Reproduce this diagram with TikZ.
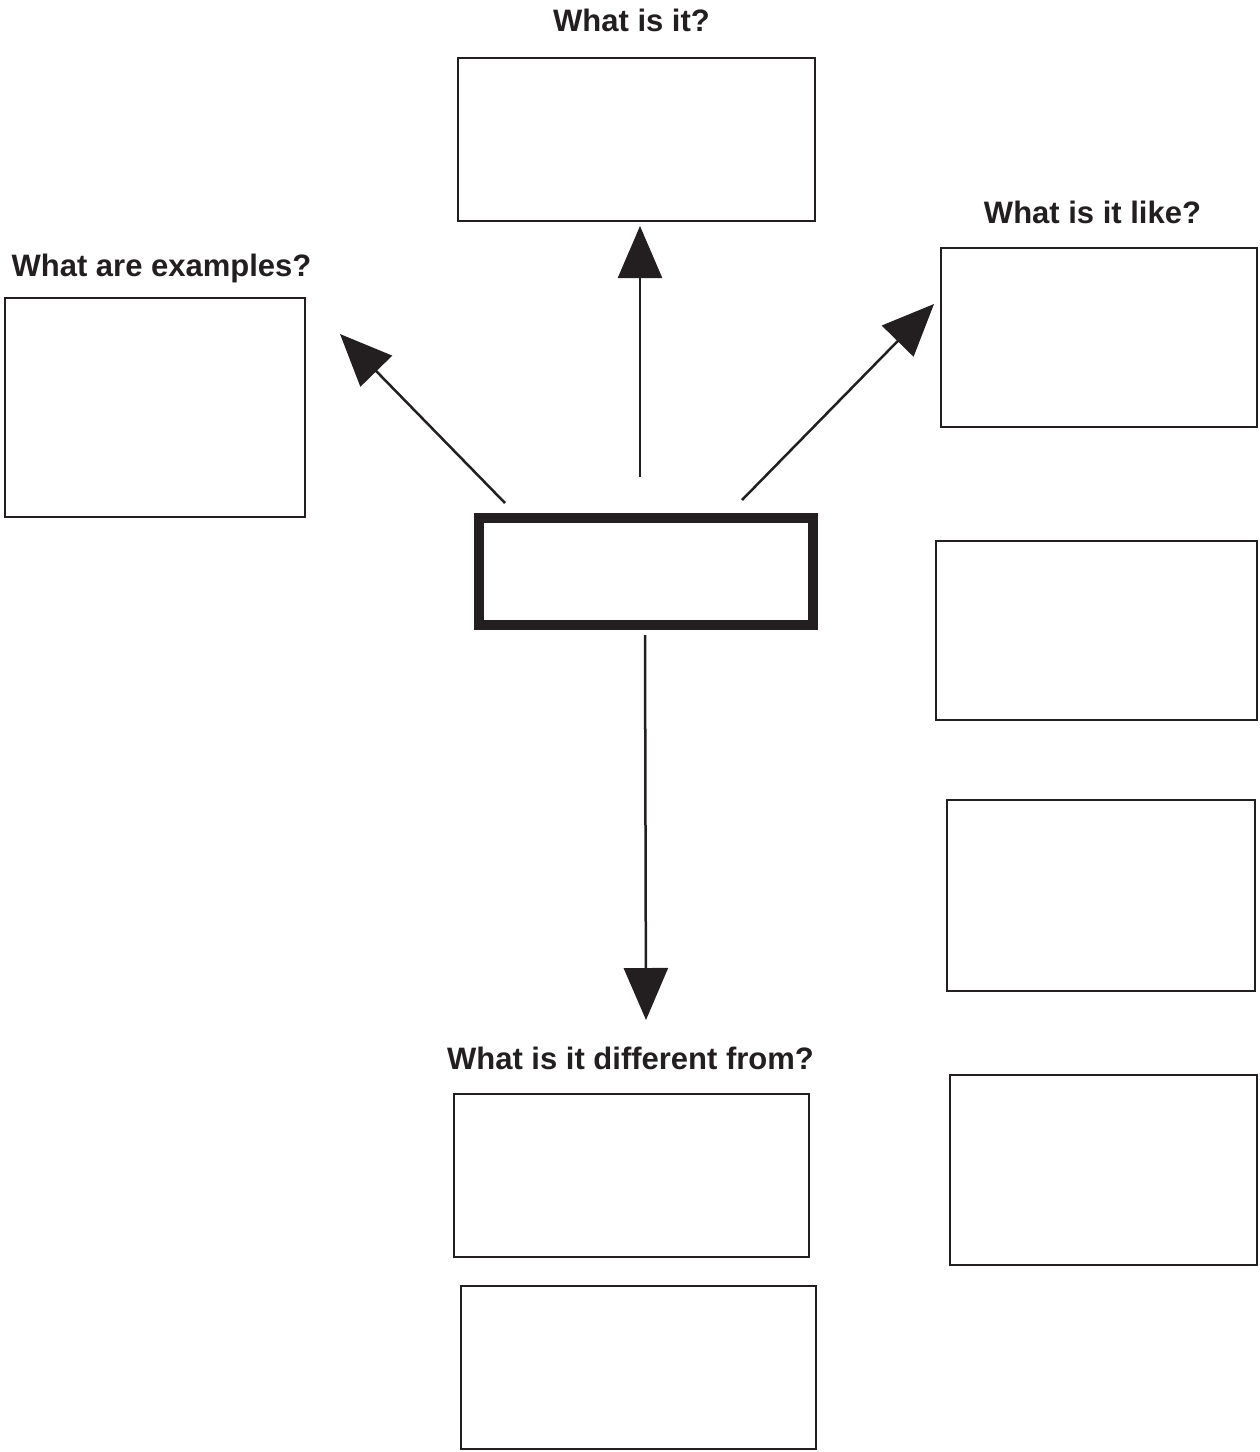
\documentclass[tikz,border=0pt]{standalone}
\usepackage{fontspec}
\setmainfont{Liberation Sans}
\usetikzlibrary{arrows.meta}
\definecolor{ink}{HTML}{231F20}
\begin{document}
\begin{tikzpicture}[x=1pt,y=-1pt,
  box/.style={draw=ink,line width=2.2pt,fill=white,inner sep=0pt,outer sep=0pt},
  hub/.style={draw=ink,line width=10pt,fill=white,inner sep=0pt,outer sep=0pt},
  question/.style={font=\fontsize{31}{36}\selectfont\bfseries,text=ink,anchor=base,inner sep=0pt},
  link/.style={draw=ink,line width=2.5pt,-{Triangle[length=52pt,width=44pt]}}]
  \useasboundingbox (0,0) rectangle (1260,1452);
  % central box
  \node[hub,minimum width=334pt,minimum height=107pt] (hub) at (646,571.5) {};
  % answer boxes
  \node[box,minimum width=357pt,minimum height=163pt] (what) at (636.5,139.5) {};
  \node[box,minimum width=300pt,minimum height=219pt] (examples) at (155,407.5) {};
  \node[box,minimum width=316pt,minimum height=179pt] (like1) at (1099,337.5) {};
  \node[box,minimum width=321pt,minimum height=179pt] (like2) at (1096.5,630.5) {};
  \node[box,minimum width=308pt,minimum height=191pt] (like3) at (1101,895.5) {};
  \node[box,minimum width=307pt,minimum height=190pt] (like4) at (1103.5,1170) {};
  \node[box,minimum width=355pt,minimum height=163pt] (diff1) at (631.5,1175.5) {};
  \node[box,minimum width=355pt,minimum height=163pt] (diff2) at (638.5,1367.5) {};
  % questions
  \node[question] (qwhat) at (631.5,31) {What is it?};
  \node[question] (qexamples) at (161.5,276) {What are examples?};
  \node[question] (qlike) at (1092.5,223) {What is it like?};
  \node[question] (qdiff) at (630.5,1069) {What is it different from?};
  % arrow ends
  \coordinate (upS) at (640,477);
  \coordinate (upT) at (640,226);
  \coordinate (leftS) at (505,503);
  \coordinate (leftT) at (340,334);
  \coordinate (rightS) at (742,500);
  \coordinate (rightT) at (934,304);
  \coordinate (downS) at (645,635);
  \coordinate (downT) at (646,1020);
  \draw[link] (upS) -- (upT);
  \draw[link] (leftS) -- (leftT);
  \draw[link] (rightS) -- (rightT);
  \draw[link] (downS) -- (downT);
\end{tikzpicture}
\end{document}
